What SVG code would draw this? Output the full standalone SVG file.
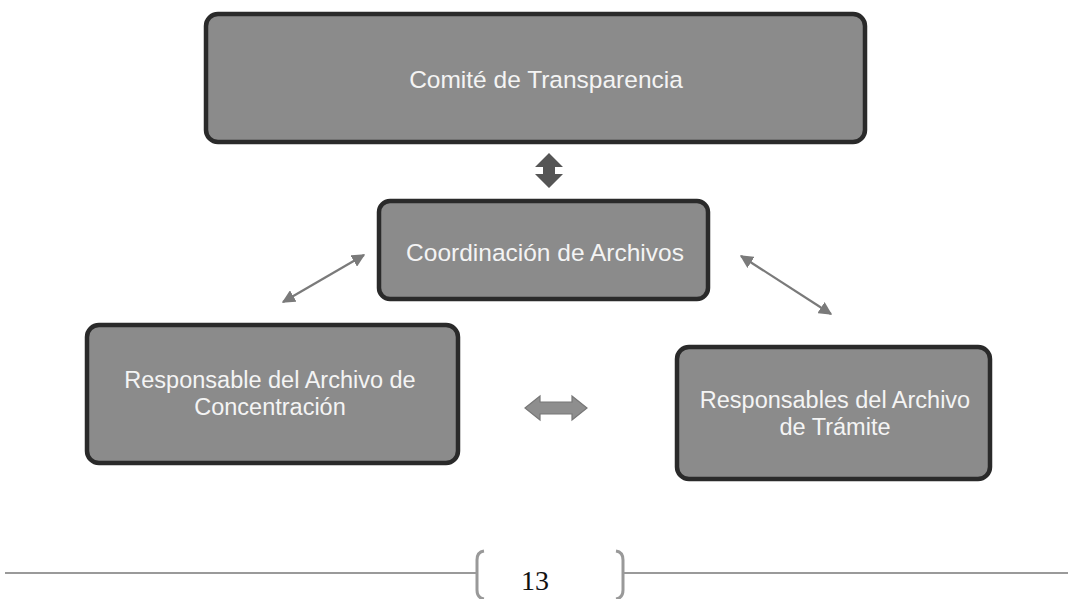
<svg xmlns="http://www.w3.org/2000/svg" width="1070" height="599" viewBox="0 0 1070 599">
<defs>
<style>
.box{fill:#8b8b8b;stroke:#2a2a2a;stroke-width:4.5}
.lbl{font-family:"Liberation Sans",Arial,sans-serif;font-size:24.5px;fill:#f4f4f4;text-anchor:middle}
.lbl2{font-size:23.5px}
.thin{stroke:#7a7a7a;stroke-width:2.2;fill:none}
.rule{stroke:#9a9a9a;stroke-width:2;fill:none}
</style>
<marker id="ah" viewBox="0 0 10 10" refX="9" refY="5" markerWidth="6" markerHeight="6" markerUnits="strokeWidth" orient="auto-start-reverse">
<path d="M0,0 L10,5 L0,10 Z" fill="#7a7a7a"/>
</marker>
</defs>
<rect width="1070" height="599" fill="#ffffff"/>
<g id="comite">
<rect class="box" x="206" y="14" width="659" height="128" rx="12"/>
<text class="lbl" x="546" y="88">Comité de Transparencia</text>
</g>
<g id="coordinacion">
<rect class="box" x="379" y="201" width="329" height="98" rx="11"/>
<text class="lbl" x="545" y="261">Coordinación de Archivos</text>
</g>
<g id="concentracion">
<rect class="box" x="87" y="325" width="371" height="138" rx="12"/>
<text class="lbl lbl2" x="270" y="388">Responsable del Archivo de</text>
<text class="lbl lbl2" x="270" y="415">Concentración</text>
</g>
<g id="tramite">
<rect class="box" x="677" y="347" width="313" height="132" rx="12"/>
<text class="lbl lbl2" x="835" y="408">Responsables del Archivo</text>
<text class="lbl lbl2" x="835" y="435">de Trámite</text>
</g>
<g id="connectors">
<path d="M549,153 L563,167 L555,167 L555,174 L563,174 L549,188 L535,174 L543,174 L543,167 L535,167 Z" fill="#555555"/>
<path d="M525,408 L540,396 L540,402 L572,402 L572,396 L587,408 L572,420 L572,414 L540,414 L540,420 Z" fill="#8e8e8e" stroke="#777777" stroke-width="1.2"/>
<line class="thin" x1="283" y1="302" x2="364" y2="255" marker-start="url(#ah)" marker-end="url(#ah)"/>
<line class="thin" x1="741" y1="256" x2="831" y2="314" marker-start="url(#ah)" marker-end="url(#ah)"/>
</g>
<g id="footer">
<line class="rule" x1="5" y1="573" x2="476" y2="573"/>
<line class="rule" x1="623" y1="573" x2="1068" y2="573"/>
<path d="M484,551 Q477,552 477,560 L477,590 Q477,598 484,599" stroke="#999" stroke-width="3" fill="none"/>
<path d="M616,551 Q623,552 623,560 L623,590 Q623,598 616,599" stroke="#999" stroke-width="3" fill="none"/>
<text x="535" y="590" font-family="Liberation Serif,serif" font-size="28" fill="#111" text-anchor="middle">13</text>
</g>
</svg>
